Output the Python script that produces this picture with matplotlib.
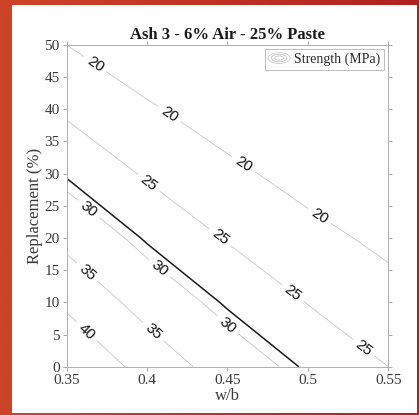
import numpy as np
import matplotlib
matplotlib.use("Agg")
import matplotlib.pyplot as plt
from matplotlib.patches import Ellipse, Rectangle
from matplotlib.legend_handler import HandlerBase
from matplotlib.lines import Line2D

# compressive strength (MPa) on a w/b x replacement grid
wb = [0.35, 0.40, 0.45, 0.50, 0.55]
replacement = [0, 10, 20, 30, 40, 50]
strength = [
    [44.8, 38.17, 32.65, 28.53, 25.0],
    [39.07, 33.08, 28.56, 24.87, 21.9],
    [33.63, 28.6, 24.69, 21.53, 18.82],
    [28.64, 24.49, 21.1, 18.2, 15.79],
    [24.27, 20.59, 17.55, 14.97, 13.0],
    [20.0, 16.8, 14.3, 12.0, 10.3],
]
levels = [20, 25, 30, 35, 40]
target = 29

serif = ["Liberation Serif", "DejaVu Serif"]


class ContourIcon(HandlerBase):
    # little set of nested ellipses, like a contour swatch
    def create_artists(self, legend, orig_handle, xdescent, ydescent,
                       width, height, fontsize, trans):
        cx, cy = width / 2 - xdescent, height / 2 - ydescent
        arts = []
        for k in (1.0, 0.7, 0.4):
            e = Ellipse((cx, cy), width * k, height * 1.1 * k, fill=False,
                        edgecolor="#c8c8c8", linewidth=0.6, transform=trans)
            arts.append(e)
        return arts


fig = plt.figure(figsize=(4.19, 4.15), dpi=100)

# red frame behind the white sheet
bg = fig.add_axes([0, 0, 1, 1], zorder=-10)
grad = np.linspace(0, 1, 256)[None, :]
cmap = matplotlib.colors.LinearSegmentedColormap.from_list("frame", ["#cd4428", "#b02020"])
bg.imshow(grad, aspect="auto", cmap=cmap, extent=[0, 1, 0, 1])
bg.add_patch(Rectangle((12 / 419, 2 / 415), 405 / 419, 408 / 415, facecolor="white", edgecolor="none"))
bg.set_xlim(0, 1)
bg.set_ylim(0, 1)
bg.axis("off")

ax = fig.add_axes([0.1592, 0.1164, 0.7675, 0.7752])
W, R = np.meshgrid(wb, replacement)
Z = np.array(strength)

cs = ax.contour(W, R, Z, levels=levels, colors="#c8c8c8", linewidths=0.6)
ax.contour(W, R, Z, levels=[target], colors="#1a1a1a", linewidths=1.1)

label_spots = [
    (0.3665, 46.6), (0.4122, 38.6), (0.4578, 30.6), (0.5055, 22.8),
    (0.3998, 28.2), (0.4433, 19.4), (0.4889, 10.9), (0.5335, 2.6),
    (0.3624, 24.1), (0.406, 14.8), (0.4474, 5.7),
    (0.3614, 14.3), (0.4029, 5.2),
    (0.3614, 5.2),
]
ax.clabel(cs, fmt="%d", manual=label_spots, inline=True, inline_spacing=4,
          fontsize=11, colors="#111111")
for t in cs.labelTexts:
    t.set_fontfamily(["Liberation Sans", "DejaVu Sans"])

ax.set_xlim(0.35, 0.55)
ax.set_ylim(0, 50)
ax.set_xticks([0.35, 0.4, 0.45, 0.5, 0.55])
ax.set_xticklabels(["0.35", "0.4", "0.45", "0.5", "0.55"])
ax.set_yticks(np.arange(0, 51, 5))
ax.tick_params(direction="out", length=3, width=0.6, color="#9a9a9a",
               top=True, right=True, labelsize=11, labelcolor="#3a3a3a", pad=2)
for lab in ax.get_xticklabels() + ax.get_yticklabels():
    lab.set_fontfamily(serif)
for s in ax.spines.values():
    s.set_color("#b0b0b0")
    s.set_linewidth(0.7)

ax.set_title("Ash 3 - 6% Air - 25% Paste", fontsize=12, fontweight="bold",
             family=serif, color="#1a1a1a", pad=4)
ax.set_xlabel("w/b", fontsize=12, family=serif, color="#3a3a3a", labelpad=1)
ax.set_ylabel("Replacement (%)", fontsize=12, family=serif, color="#3a3a3a", labelpad=1)

handle = Line2D([], [], color="#c8c8c8")
leg = ax.legend([handle], ["Strength (MPa)"], loc="upper right",
                handler_map={Line2D: ContourIcon()}, prop={"family": serif, "size": 10},
                frameon=True, fancybox=False, borderpad=0.25, handlelength=1.6,
                handletextpad=0.3, borderaxespad=0.3)
leg.get_frame().set_edgecolor("#b0b0b0")
leg.get_frame().set_linewidth(0.7)
for t in leg.get_texts():
    t.set_color("#2a2a2a")

fig.savefig("out.png", dpi=100)
